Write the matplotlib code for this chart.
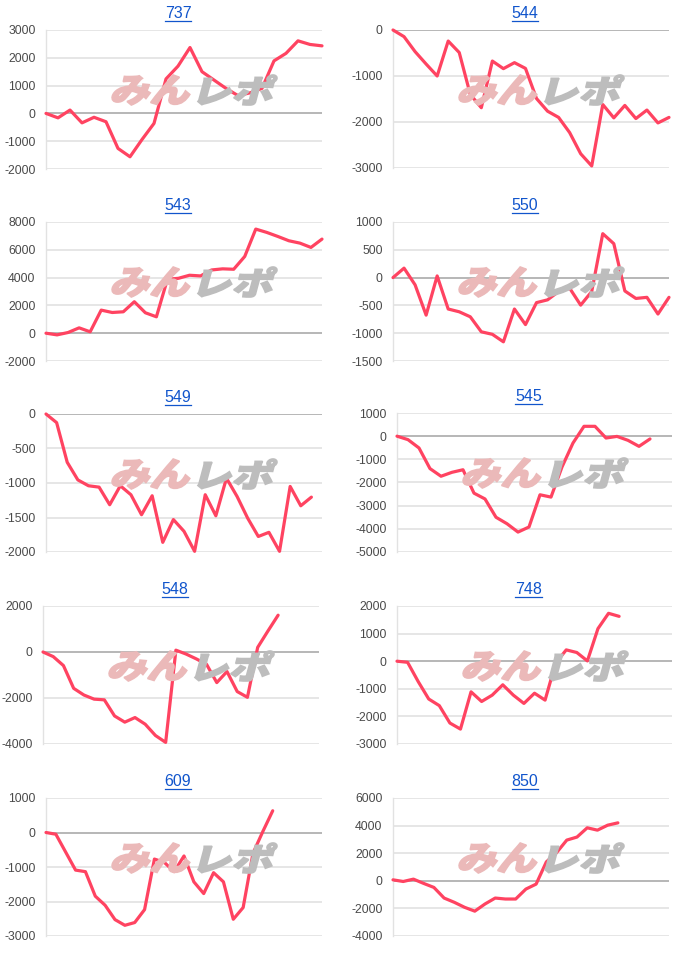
import numpy as np
import matplotlib
matplotlib.use('Agg')
import matplotlib.pyplot as plt
from matplotlib.lines import Line2D
from matplotlib.patches import PathPatch
from matplotlib.textpath import TextPath
from matplotlib.font_manager import FontProperties
import matplotlib.transforms as mtransforms

plt.rc('font', family=['Liberation Sans', 'DejaVu Sans'], size=8)
plt.rc('axes', unicode_minus=False)

W, H = 700, 960

titles = ['737', '544', '543', '550', '549', '545', '548', '748', '609', '850']

s737 = [0, -160, 120, -340, -140, -300, -1260, -1560, -940, -360, 1240, 1700,
        2370, 1500, 1200, 900, 640, 740, 900, 1890, 2160, 2610, 2480, 2430]
s544 = [0, -145, -470, -740, -1000, -240, -490, -1400, -1690, -675, -840, -710,
        -835, -1490, -1765, -1900, -2230, -2690, -2955, -1620, -1910, -1640,
        -1925, -1740, -2020, -1900]
s543 = [0, -120, 50, 385, 100, 1660, 1490, 1540, 2265, 1470, 1180, 3880, 3950,
        4170, 4120, 4550, 4630, 4600, 5520, 7490, 7250, 6960, 6650, 6480, 6170, 6770]
s550 = [0, 170, -130, -675, 30, -565, -615, -705, -975, -1020, -1155, -565, -845,
        -450, -400, -250, -190, -495, -250, 790, 610, -240, -375, -355, -655, -355]
s549 = [0, -125, -700, -955, -1040, -1060, -1315, -1040, -1170, -1460, -1185,
        -1860, -1530, -1700, -1990, -1170, -1475, -930, -1195, -1510, -1775,
        -1715, -1990, -1050, -1330, -1205]
s545 = [0, -150, -510, -1400, -1730, -1560, -1450, -2460, -2710, -3500, -3780,
        -4140, -3920, -2530, -2630, -1330, -295, 425, 425, -80, -10, -180, -440, -120]
s548 = [0, -200, -590, -1580, -1870, -2050, -2080, -2780, -3050, -2850, -3140,
        -3630, -3930, 80, -90, -300, -535, -1330, -850, -1720, -1970, 200, 910, 1600]
s748 = [0, -40, -735, -1370, -1610, -2240, -2460, -1110, -1460, -1230, -855,
        -1230, -1530, -1160, -1410, -70, 410, 315, 10, 1180, 1735, 1625]
s609 = [0, -50, -570, -1090, -1135, -1845, -2110, -2525, -2690, -2610, -2235,
        -770, -865, -1135, -680, -1430, -1770, -1165, -1430, -2515, -2175, -600, 30, 630]
s850 = [70, -50, 120, -190, -480, -1250, -1560, -1920, -2200, -1680, -1250,
        -1320, -1320, -600, -240, 1370, 2040, 2950, 3170, 3840, 3670, 4030, 4200]

series = [s737, s544, s543, s550, s549, s545, s548, s748, s609, s850]

# number of days on each x axis (line can stop before the end)
n_days = [24, 26, 26, 26, 27, 26, 28, 27, 29, 28]

yticks = [
    [-2000, -1000, 0, 1000, 2000, 3000],
    [-3000, -2000, -1000, 0],
    [-2000, 0, 2000, 4000, 6000, 8000],
    [-1500, -1000, -500, 0, 500, 1000],
    [-2000, -1500, -1000, -500, 0],
    [-5000, -4000, -3000, -2000, -1000, 0, 1000],
    [-4000, -2000, 0, 2000],
    [-3000, -2000, -1000, 0, 1000, 2000],
    [-3000, -2000, -1000, 0, 1000],
    [-4000, -2000, 0, 2000, 4000, 6000],
]

# chart area boxes in pixels: left, top, right, bottom
boxes = [
    (46, 30, 322, 169), (393, 30, 669, 168),
    (46, 222, 322, 361), (393, 222, 669, 361),
    (46, 414, 322, 552), (397, 413, 672, 552),
    (43, 606, 319, 744), (397, 606, 672, 744),
    (46, 798, 322, 936), (393, 798, 669, 936),
]

LINE_COLOR = '#ff4361'
LINK_COLOR = '#1155cc'

fp_logo = FontProperties(family='Noto Sans CJK JP', weight='black')


def logo_part(txt, x, y, w, h, color):
    # x, y: lower-left in display pixels
    tp = TextPath((0, 0), txt, size=1, prop=fp_logo)
    ext = tp.get_extents()
    skew = 15
    shift = h * np.tan(np.radians(skew))
    tr = (mtransforms.Affine2D()
          .translate(-ext.x0, -ext.y0)
          .scale((w - shift) / ext.width, h / ext.height)
          .skew_deg(skew, 0)
          .translate(x, y))
    return PathPatch(tp, transform=tr, facecolor=color, edgecolor=color, lw=1.2,
                     zorder=1, clip_on=False)


fig = plt.figure(figsize=(W / 100, H / 100), dpi=100)

title_texts = []
for i in range(10):
    l, t, r, b = boxes[i]
    ax = fig.add_axes([l / W, 1 - b / H, (r - l) / W, (b - t) / H])
    vals = series[i]
    ax.plot(np.arange(len(vals)), vals, color=LINE_COLOR, lw=2.3, zorder=5,
            solid_joinstyle='round', solid_capstyle='round', clip_on=False)
    ax.set_xlim(0, n_days[i] - 1)
    ax.set_ylim(yticks[i][0], yticks[i][-1])
    ax.set_yticks(yticks[i])
    ax.set_xticks([])
    ax.tick_params(axis='y', length=0, pad=7.5, labelsize=8.8, labelcolor='#4a4a4a')
    for yt in yticks[i]:
        c = '#aaaaaa' if yt == 0 else '#e2e2e2'
        ax.axhline(yt, color=c, lw=1.2, zorder=2)
    for s in ['top', 'right', 'bottom']:
        ax.spines[s].set_visible(False)
    ax.spines['left'].set_color('#e2e2e2')
    ax.spines['left'].set_linewidth(1.0)
    ax.set_facecolor('none')

    # watermark
    fig.add_artist(logo_part('みん', l + 64, H - (t + 75), 85, 30, '#ebb9b9'))
    fig.add_artist(logo_part('レポ', l + 151, H - (t + 75), 81, 30, '#bdbdbd'))

    cx = (l + r) / 2 - 6
    txt = fig.text(cx / W, 1 - (t - 12) / H, titles[i], ha='center', va='baseline',
                   fontsize=11.5, color=LINK_COLOR)
    title_texts.append(txt)

fig.canvas.draw()
for txt in title_texts:
    bb = txt.get_window_extent()
    base = txt.get_position()[1] * H - 2.5
    fig.add_artist(Line2D([bb.x0, bb.x1], [base, base], color=LINK_COLOR, lw=0.9,
                          transform=mtransforms.IdentityTransform()))

fig.savefig('out.png', dpi=100)
